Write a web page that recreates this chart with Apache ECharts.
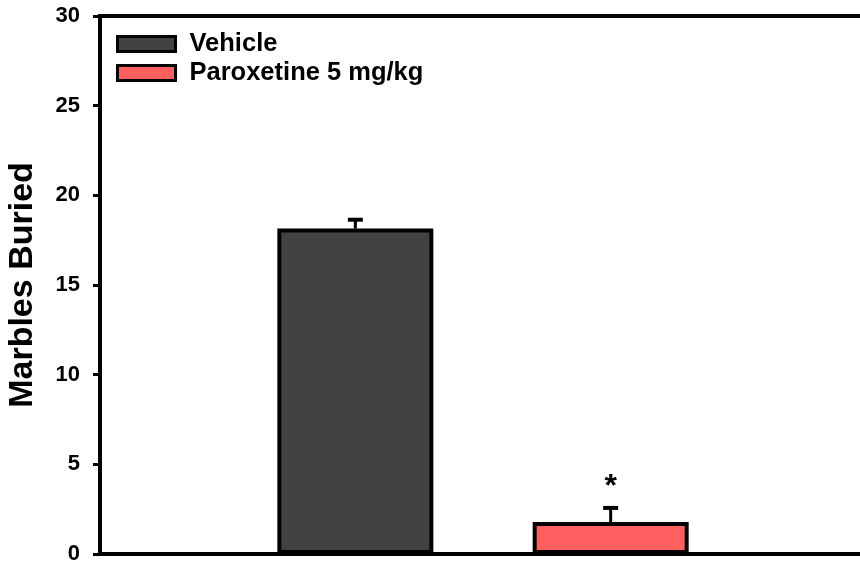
<!DOCTYPE html>
<html>
<head>
<meta charset="utf-8">
<script src="https://cdn.jsdelivr.net/npm/echarts@6/dist/echarts.min.js"></script>
<style>html,body{margin:0;padding:0;background:#fff}#c{width:860px;height:563px}</style>
</head>
<body>
<div id="c"></div>
<script>
const groups = ['Vehicle', 'Paroxetine 5 mg/kg'];
const groupX = [1, 2];
const means = [18.15, 1.78];
const sems = [0.49, 0.79];
const sigMarks = ['', '*'];
const yTicks = [0, 5, 10, 15, 20, 25, 30];
const colors = ['#424242', '#ff5f5f'];

const FONT = '"Liberation Sans", Arial, sans-serif';
const chart = echarts.init(document.getElementById('c'), null, {renderer: 'canvas'});

const barSeries = groups.map((g, i) => ({
  name: g,
  type: 'bar',
  stack: 'one',
  barWidth: 156,
  data: [[groupX[i], means[i]]],
  itemStyle: {color: colors[i], borderColor: '#000', borderWidth: 4},
  z: 2
}));

const errSeries = {
  type: 'custom',
  data: groupX.map((x, i) => [x, means[i], means[i] + sems[i], i]),
  z: 3,
  renderItem: function (params, api) {
    const x = api.value(0);
    const lo = api.coord([x, api.value(1)]);
    const hi = api.coord([x, api.value(2)]);
    const idx = api.value(3);
    const children = [
      {type: 'line', shape: {x1: lo[0], y1: lo[1], x2: hi[0], y2: hi[1]}, style: {stroke: '#000', lineWidth: 3}},
      {type: 'line', shape: {x1: hi[0] - 7.5, y1: hi[1], x2: hi[0] + 7.5, y2: hi[1]}, style: {stroke: '#000', lineWidth: 4}}
    ];
    if (sigMarks[idx]) {
      children.push({type: 'text', x: hi[0], y: hi[1] - 21, style: {text: sigMarks[idx], fill: '#000', font: 'bold 32px ' + FONT, align: 'center', verticalAlign: 'middle'}});
    }
    return {type: 'group', children: children};
  }
};

chart.setOption({
  animation: false,
  backgroundColor: '#fff',
  grid: {left: 100, top: 16, bottom: 9, width: 766, show: true, borderColor: '#000', borderWidth: 4, containLabel: false, outerBoundsMode: 'none'},
  legend: {
    orient: 'vertical', left: 116, top: 31, padding: 0,
    itemWidth: 58, itemHeight: 15, itemGap: 3,
    icon: 'rect',
    data: groups,
    itemStyle: {borderColor: '#000', borderWidth: 3},
    textStyle: {fontFamily: FONT, fontWeight: 'bold', fontSize: 25.5, color: '#000', padding: [0, 0, 0, 9]}
  },
  xAxis: {
    type: 'value', min: 0, max: 3,
    axisLine: {show: true, lineStyle: {color: '#000', width: 4}},
    axisTick: {show: false}, axisLabel: {show: false}, splitLine: {show: false}
  },
  yAxis: {
    type: 'value', min: yTicks[0], max: yTicks[yTicks.length - 1], interval: 5,
    name: 'Marbles Buried', nameLocation: 'middle', nameGap: 60,
    nameTextStyle: {fontFamily: FONT, fontWeight: 'bold', fontSize: 34, color: '#000'},
    axisLine: {show: true, lineStyle: {color: '#000', width: 4}},
    axisTick: {show: true, inside: false, length: 7, lineStyle: {color: '#000', width: 3}},
    axisLabel: {margin: 20, fontFamily: FONT, fontWeight: 'bold', fontSize: 22, color: '#000'},
    splitLine: {show: false}
  },
  series: barSeries.concat([errSeries])
});
</script>
</body>
</html>
